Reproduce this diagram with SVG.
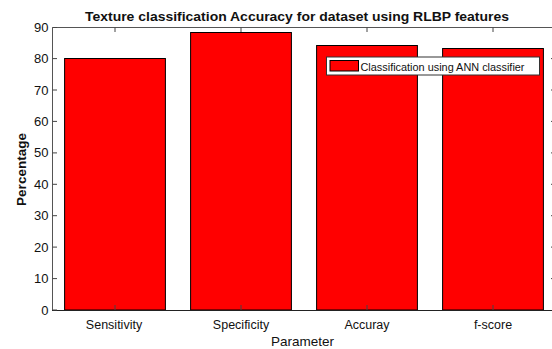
<svg xmlns="http://www.w3.org/2000/svg" width="552" height="349" viewBox="0 0 552 349">
<style>
.bar{fill:#ff0000;stroke:#000;stroke-width:1}
.ax{stroke:#555;stroke-width:1;fill:none}
.tk{stroke:#444;stroke-width:1}
.t{font-family:"Liberation Sans",Arial,sans-serif;fill:#111}
.yl{font-size:13px;text-anchor:end}
.xl{font-size:12.5px;text-anchor:middle}
</style>
<rect x="0" y="0" width="552" height="349" fill="#fff"/>
<g id="bars">
<rect class="bar" x="64.6" y="58.5" width="100.8" height="251.5"/>
<rect class="bar" x="190.6" y="32.5" width="100.8" height="277.5"/>
<rect class="bar" x="316.6" y="45.5" width="100.8" height="264.5"/>
<rect class="bar" x="442.6" y="48.5" width="100.8" height="261.5"/>
</g>
<g id="axes">
<path class="ax" d="M52.5 27.5H556M52.5 27.5V310M556 27.5V310"/>
<path d="M52 310.5H556" stroke="#222" stroke-width="1.2"/>
<path class="tk" d="M52.5 310H57M52.5 278.6H57M52.5 247.1H57M52.5 215.7H57M52.5 184.3H57M52.5 152.9H57M52.5 121.4H57M52.5 90H57M52.5 58.6H57M52.5 27.5H57"/>
<path class="tk" d="M556 278.6H551M556 247.1H551M556 215.7H551M556 184.3H551M556 152.9H551M556 121.4H551M556 90H551M556 58.6H551"/>
<path class="tk" d="M115 27.5V32M241 27.5V32M367 27.5V32M493 27.5V32M115 310V305M241 310V305M367 310V305M493 310V305"/>
</g>
<g id="ylabels" class="t yl">
<text x="48.5" y="314.5">0</text>
<text x="48.5" y="283">10</text>
<text x="48.5" y="251.6">20</text>
<text x="48.5" y="220.2">30</text>
<text x="48.5" y="188.8">40</text>
<text x="48.5" y="157.4">50</text>
<text x="48.5" y="125.9">60</text>
<text x="48.5" y="94.5">70</text>
<text x="48.5" y="63.1">80</text>
<text x="48.5" y="31.8">90</text>
</g>
<g id="xlabels" class="t xl">
<text x="114" y="328.5">Sensitivity</text>
<text x="241" y="328.5">Specificity</text>
<text x="367" y="328.5">Accuray</text>
<text x="493" y="328.5">f-score</text>
</g>
<text id="title" class="t" x="297" y="20.7" font-size="13.5" font-weight="bold" text-anchor="middle" textLength="424" lengthAdjust="spacingAndGlyphs">Texture classification Accuracy for dataset using RLBP features</text>
<text id="xlabel" class="t" x="302.5" y="346" font-size="13.5" text-anchor="middle">Parameter</text>
<text id="ylabel" class="t" transform="translate(26,169.5) rotate(-90)" font-size="13.5" font-weight="bold" text-anchor="middle">Percentage</text>
<g id="legend">
<rect x="326.5" y="57" width="213" height="18" fill="#fff" stroke="#333" stroke-width="1"/>
<rect x="330" y="60.5" width="28.5" height="10.5" fill="#ff0000" stroke="#000" stroke-width="1"/>
<text class="t" x="360.5" y="70.5" font-size="10.8" textLength="164" lengthAdjust="spacingAndGlyphs">Classification using ANN classifier</text>
</g>
</svg>
